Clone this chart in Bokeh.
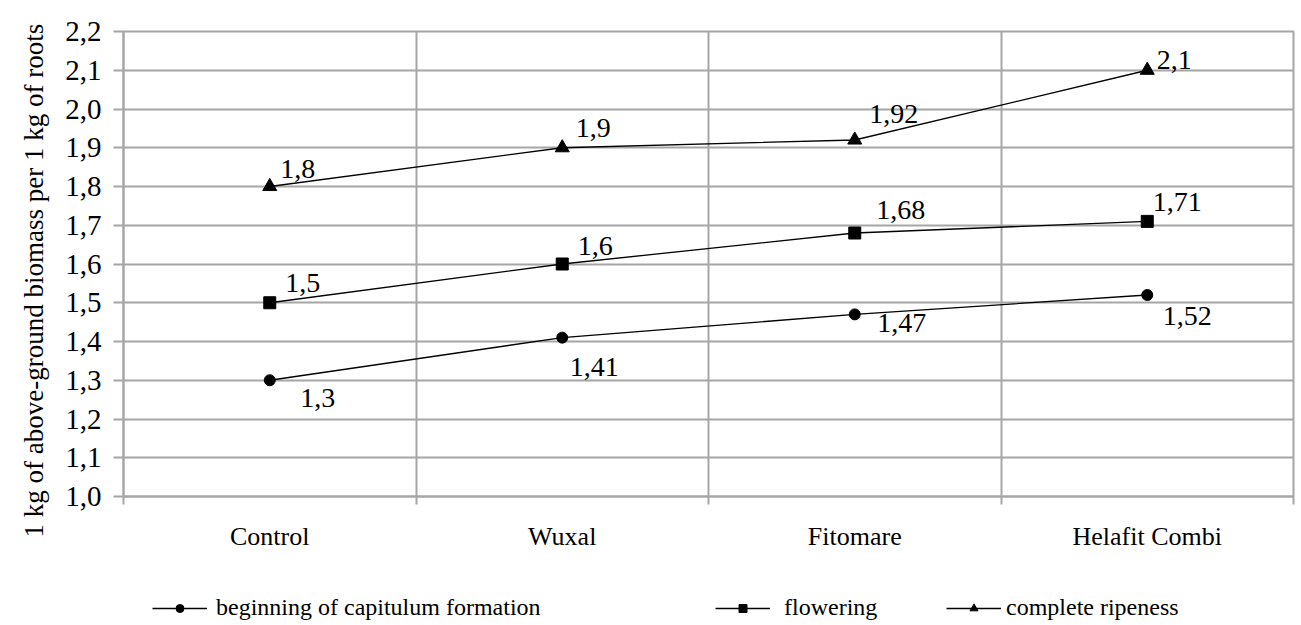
from bokeh.plotting import figure
from bokeh.layouts import column
from bokeh.models import (ColumnDataSource, FixedTicker, CustomJSTickFormatter,
                          Legend, LegendItem, Range1d, Title)
from bokeh.embed import file_html
from bokeh.resources import INLINE
from bokeh.core.properties import value

# ---- data ----
categories = ["Control", "Wuxal", "Fitomare", "Helafit Combi"]
series_names = ["beginning of capitulum formation", "flowering", "complete ripeness"]
beginning = [1.30, 1.41, 1.47, 1.52]
flowering = [1.50, 1.60, 1.68, 1.71]
ripeness = [1.80, 1.90, 1.92, 2.10]
y_ticks = [1.0, 1.1, 1.2, 1.3, 1.4, 1.5, 1.6, 1.7, 1.8, 1.9, 2.0, 2.1, 2.2]
y_title = "1 kg of above-ground biomass per 1 kg of roots"

# ---- style: data label offsets (screen px) ----
beg_dx = [48, 32, 47, 40]
beg_dy = [18, 29, 9, 21]
flo_dx = [33, 33, 46, 30]
flo_dy = [-20, -18, -23, -19]
rip_dx = [28, 31, 39, 27]
rip_dy = [-18, -20, -26, -10]

FONT = "Liberation Serif"
GRID = "#a6a6a6"
W = 1301
LEFT = 123
RIGHT = 8

xs = [i + 0.5 for i in range(len(categories))]
bounds = [float(i) for i in range(len(categories) + 1)]

p = figure(width=W, height=580, output_backend="svg", toolbar_location=None,
           x_range=Range1d(0, len(categories)), y_range=Range1d(y_ticks[0], y_ticks[-1]),
           min_border_left=LEFT, min_border_right=RIGHT, min_border_top=31,
           min_border_bottom=84)
p.background_fill_color = "white"
p.border_fill_color = "white"
p.outline_line_color = GRID
p.outline_line_width = 2

# grids
p.xgrid.ticker = FixedTicker(ticks=bounds)
p.ygrid.ticker = FixedTicker(ticks=y_ticks)
for g in (p.xgrid, p.ygrid):
    g.grid_line_color = GRID
    g.grid_line_width = 2

# x axis
xa = p.xaxis[0]
xa.ticker = FixedTicker(ticks=xs, minor_ticks=bounds)
xa.formatter = CustomJSTickFormatter(args=dict(cats=categories),
                                     code="return cats[Math.round(tick - 0.5)];")
xa.major_tick_line_color = None
xa.major_tick_out = 0
xa.major_tick_in = 0
xa.minor_tick_out = 8
xa.minor_tick_in = 0
xa.minor_tick_line_color = GRID
xa.minor_tick_line_width = 2
xa.axis_line_color = GRID
xa.axis_line_width = 2
xa.major_label_text_font = FONT
xa.major_label_text_font_size = "26px"
xa.major_label_text_color = "black"
xa.major_label_standoff = 17

# y axis
ya = p.yaxis[0]
ya.ticker = FixedTicker(ticks=y_ticks)
ya.formatter = CustomJSTickFormatter(code="return tick.toFixed(1).replace('.', ',');")
ya.minor_tick_line_color = None
ya.major_tick_out = 10
ya.major_tick_in = 0
ya.major_tick_line_color = GRID
ya.major_tick_line_width = 2
ya.axis_line_color = GRID
ya.axis_line_width = 2
ya.major_label_text_font = FONT
ya.major_label_text_font_size = "29px"
ya.major_label_text_color = "black"
ya.major_label_standoff = 12

# y axis title (as a side title so it can be shifted like the reference)
yt = Title(text=y_title, align="left", offset=-41, text_font=FONT,
           text_font_size="27px", text_font_style="normal", text_color="black",
           standoff=28)
p.add_layout(yt, "left")

# legend strip (separate figure so the legend is not clipped by the main frame)
leg_fig = figure(width=W, height=45, output_backend="svg", toolbar_location=None,
                 x_range=Range1d(100, 101), y_range=Range1d(100, 101),
                 min_border_left=LEFT, min_border_right=RIGHT, min_border_top=0,
                 min_border_bottom=0)
leg_fig.axis.visible = False
leg_fig.grid.visible = False
leg_fig.outline_line_color = None
leg_fig.background_fill_color = "white"
leg_fig.border_fill_color = "white"

series = [
    (beginning, "circle", 11, beg_dx, beg_dy),
    (flowering, "square", 12, flo_dx, flo_dy),
    (ripeness, "triangle", 14, rip_dx, rip_dy),
]
legend_x = [29, 592, 823]
legend_std = [9, 14, 5]

for (vals, marker, size, dx, dy), name, lx, ls in zip(series, series_names, legend_x, legend_std):
    src = ColumnDataSource(dict(x=xs, y=vals,
                                t=[f"{v:g}".replace(".", ",") for v in vals],
                                dx=dx, dy=dy))
    p.line("x", "y", source=src, line_color="black", line_width=1.3)
    p.scatter("x", "y", source=src, marker=marker, size=size,
              fill_color="black", line_color="black")
    p.text("x", "y", text="t", x_offset="dx", y_offset="dy", source=src,
           text_font=value(FONT), text_font_size="28px", text_color="black",
           text_align="center", text_baseline="middle")
    # legend renderers in the strip (their data lies outside its range)
    lr = leg_fig.line("x", "y", source=src, line_color="black", line_width=1.3)
    sr = leg_fig.scatter("x", "y", source=src, marker=marker, size=size,
                         fill_color="black", line_color="black")
    leg = Legend(items=[LegendItem(label=name, renderers=[lr, sr])],
                 location=(lx, 4), orientation="horizontal",
                 border_line_color=None, background_fill_alpha=0,
                 padding=0, margin=0, glyph_width=55, glyph_height=20,
                 label_standoff=ls, label_text_font=FONT,
                 label_text_font_size="24px", label_text_color="black",
                 label_height=24)
    leg_fig.add_layout(leg)

layout = column(p, leg_fig, spacing=0)
open("out.html", "w").write(file_html(layout, INLINE))
